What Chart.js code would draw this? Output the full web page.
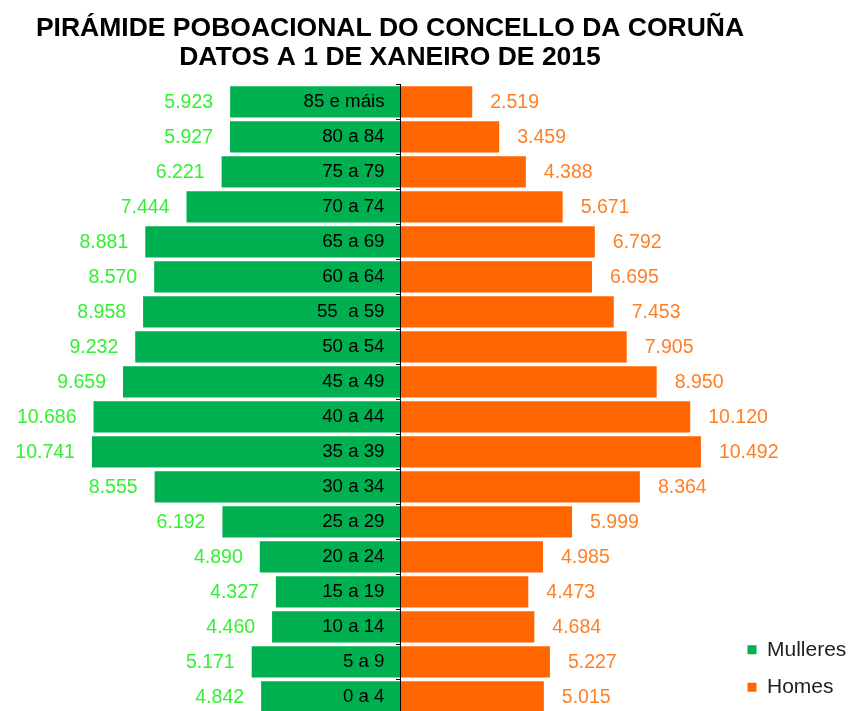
<!DOCTYPE html>
<html>
<head>
<meta charset="utf-8">
<script src="https://cdn.jsdelivr.net/npm/chart.js@4.4.0/dist/chart.umd.min.js"></script>
<style>
html,body{margin:0;padding:0;overflow:hidden;background:#fff;}
#wrap{width:848px;height:740px;position:relative;}
</style>
</head>
<body>
<div id="wrap"><canvas id="c"></canvas></div>
<script>
const titleLines = ['PIRÁMIDE POBOACIONAL DO CONCELLO DA CORUÑA', 'DATOS A 1 DE XANEIRO DE 2015'];
const categories = ['85 e máis','80 a 84','75 a 79','70 a 74','65 a 69','60 a 64','55  a 59','50 a 54','45 a 49','40 a 44','35 a 39','30 a 34','25 a 29','20 a 24','15 a 19','10 a 14','5 a 9','0 a 4'];
const seriesNames = ['Mulleres', 'Homes'];
const mulleres = [5923,5927,6221,7444,8881,8570,8958,9232,9659,10686,10741,8555,6192,4890,4327,4460,5171,4842];
const homes = [2519,3459,4388,5671,6792,6695,7453,7905,8950,10120,10492,8364,5999,4985,4473,4684,5227,5015];

const GREEN = '#00B050', ORANGE = '#FF6600';
const GREEN_TXT = '#33F033', ORANGE_TXT = '#FF7F27';

function fmt(v) {
  return String(Math.abs(v)).replace(/\B(?=(\d{3})+(?!\d))/g, '.');
}

const titlePlugin = {
  id: 'titleLines',
  afterDraw(chart) {
    const ctx = chart.ctx;
    ctx.save();
    ctx.fillStyle = '#000';
    ctx.font = "bold 26.5px 'Liberation Sans', Arial, sans-serif";
    ctx.textAlign = 'center';
    ctx.textBaseline = 'middle';
    ctx.fillText(titleLines[0], 390, 29);
    ctx.fillText(titleLines[1], 390, 58);
    ctx.restore();
  }
};

const valueLabels = {
  id: 'valueLabels',
  afterDatasetsDraw(chart) {
    const ctx = chart.ctx;
    ctx.save();
    ctx.font = "19.5px 'Liberation Sans', Arial, sans-serif";
    ctx.textBaseline = 'middle';
    chart.data.datasets.forEach((ds, di) => {
      const meta = chart.getDatasetMeta(di);
      meta.data.forEach((el, i) => {
        const v = ds.data[i];
        if (v < 0) {
          ctx.textAlign = 'right';
          ctx.fillStyle = GREEN_TXT;
          ctx.fillText(fmt(v), el.x - 17, el.y + 1);
        } else {
          ctx.textAlign = 'left';
          ctx.fillStyle = ORANGE_TXT;
          ctx.fillText(fmt(v), el.x + 18, el.y + 1);
        }
      });
    });
    ctx.restore();
  }
};

new Chart(document.getElementById('c'), {
  type: 'bar',
  data: {
    labels: categories,
    datasets: [
      { label: seriesNames[0], data: mulleres.map(v => -v), backgroundColor: GREEN, borderWidth: 0, barPercentage: 0.89, categoryPercentage: 1 },
      { label: seriesNames[1], data: homes, backgroundColor: ORANGE, borderWidth: 0, barPercentage: 0.89, categoryPercentage: 1 }
    ]
  },
  options: {
    indexAxis: 'y',
    responsive: true,
    maintainAspectRatio: false,
    animation: false,
    layout: { padding: { top: 84.3, bottom: 25.7, left: 0, right: 0 } },
    scales: {
      x: {
        display: false,
        stacked: true,
        min: -13947,
        max: 11541
      },
      y: {
        stacked: true,
        position: { x: 0 },
        offset: true,
        grid: { display: true, drawOnChartArea: false, drawTicks: true, tickLength: 4, color: '#000', offset: true, z: 1 },
        border: { display: true, color: '#000', width: 1, z: 1 },
        ticks: { display: false }
      },
      yLabels: {
        type: 'category',
        axis: 'y',
        position: { x: -540 },
        offset: true,
        grid: { display: false },
        border: { display: false },
        ticks: { z: 1, padding: 0, color: '#000', font: { family: "'Liberation Sans', Arial, sans-serif", size: 18.7 } }
      }
    },
    plugins: {
      title: { display: false },
      tooltip: { enabled: false },
      legend: {
        position: 'right',
        align: 'end',
        fullSize: false,
        maxWidth: 117,
        labels: {
          boxWidth: 9,
          boxHeight: 9,
          padding: 16.5,
          color: '#222',
          font: { family: "'Liberation Sans', Arial, sans-serif", size: 21 }
        }
      }
    }
  },
  plugins: [valueLabels, titlePlugin]
});
</script>
</body>
</html>
